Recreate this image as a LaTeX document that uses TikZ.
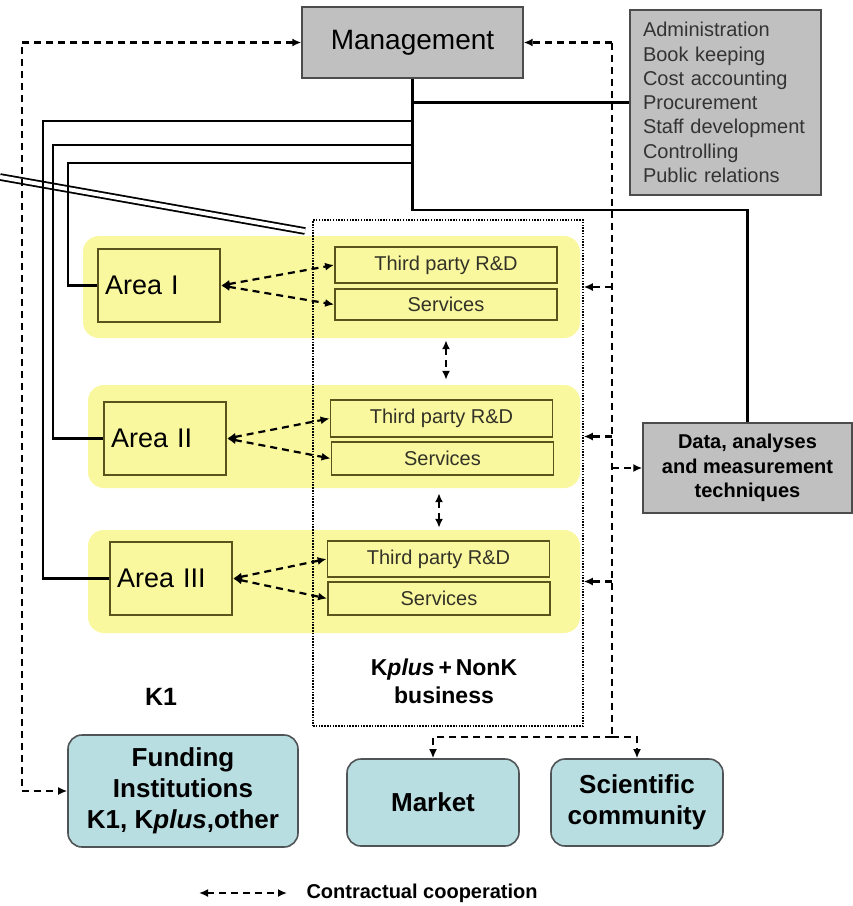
\documentclass[tikz,border=0pt]{standalone}
\usepackage{fontspec}
\setmainfont{Liberation Sans}
\usetikzlibrary{arrows.meta}
\definecolor{mggray}{RGB}{192,192,192}
\definecolor{areayellow}{RGB}{250,248,158}
\definecolor{areaedge}{RGB}{88,84,28}
\definecolor{outteal}{RGB}{184,222,226}
\definecolor{outedge}{RGB}{80,84,86}
\definecolor{txtdark}{RGB}{50,50,40}

\begin{document}
\begin{tikzpicture}[x=1pt,y=-1pt,
  conn/.style={line width=2.3pt},
  dline/.style={line width=2.2pt, dash pattern=on 7pt off 5pt, >={Latex[length=9pt,width=8pt]}},
  graybox/.style={draw=black!70, fill=mggray, line width=1.4pt, inner sep=0pt},
  rowbg/.style={fill=areayellow, rounded corners=16pt, inner sep=0pt},
  areabox/.style={draw=areaedge, fill=areayellow, line width=1.8pt, text width=108pt, inner xsep=7pt, align=left, minimum height=73pt, inner ysep=0pt, font=\fontsize{27}{30}\selectfont},
  taskbox/.style={draw=areaedge, fill=areayellow, line width=1.8pt, minimum width=222pt, inner sep=0pt, text=txtdark, font=\fontsize{20}{22}\selectfont},
  outbox/.style={draw=outedge, fill=outteal, line width=1.6pt, rounded corners=14pt, inner sep=0pt, align=center, font=\bfseries\fontsize{26}{31}\selectfont}]
\useasboundingbox (0,0) rectangle (853,906);

% Yellow rows and the Kplus frame
\node[rowbg, minimum width=497pt, minimum height=102pt] (row1) at (331.5,287) {};
\node[rowbg, minimum width=492pt, minimum height=103pt] (row2) at (334,436.5) {};
\node[rowbg, minimum width=492pt, minimum height=103pt] (row3) at (334,581.5) {};
\node[draw, line width=1.5pt, dash pattern=on 1.5pt off 1.3pt, minimum width=270pt, minimum height=506pt, inner sep=0pt] (kbox) at (448,473) {};
\node[font=\bfseries\fontsize{23}{28}\selectfont, align=center] (ktext) at (444,681) {K\textit{plus}\,+\,NonK\\business};

% Management level
\node[graybox, minimum width=221pt, minimum height=71pt, font=\fontsize{28}{30}\selectfont] (mgmt) at (412.5,42.5) {Management};
\node[graybox, text width=165pt, minimum height=185pt, inner xsep=13pt, align=left, text=black!80, font=\fontsize{20}{24.3}\selectfont] (admin) at (725.5,102.5) {Administration\\Book keeping\\Cost accounting\\Procurement\\Staff development\\Controlling\\Public relations};
\node[graybox, minimum width=209pt, minimum height=90pt, align=center, font=\bfseries\fontsize{20}{24.5}\selectfont] (data) at (747.5,468) {Data, analyses\\and measurement\\techniques};

% Areas
\node[areabox] (area1) at (159,285.5) {Area I};
\node[areabox] (area2) at (165,438.5) {Area II};
\node[areabox] (area3) at (171,578.5) {Area III};

% Third party R&D and services
\node[taskbox, minimum height=36pt] (tp1) at (446,265) {Third party R\&D};
\node[taskbox, minimum height=31pt] (sv1) at (446,304.5) {Services};
\node[taskbox, minimum height=37pt] (tp2) at (441.5,418.5) {Third party R\&D};
\node[taskbox, minimum height=33pt] (sv2) at (442.5,458.5) {Services};
\node[taskbox, minimum height=36pt] (tp3) at (438.5,559) {Third party R\&D};
\node[taskbox, minimum height=33pt] (sv3) at (439,598.5) {Services};

% Partners
\node[font=\bfseries\fontsize{25}{28}\selectfont] (kone) at (161,697) {K1};
\node[outbox, minimum width=230pt, minimum height=112pt] (fund) at (183,791) {Funding\\Institutions\\K1, K\textit{plus},other};
\node[outbox, minimum width=172pt, minimum height=87pt] (market) at (433,802.5) {Market};
\node[outbox, minimum width=172pt, minimum height=87pt] (sci) at (637,802.5) {Scientific\\community};

% Zoom lines
\coordinate (zfrom) at (0,177);
\coordinate (zto) at (305,231);
\draw[double=white, double distance=4pt, line width=1.8pt] (zfrom) -- (zto);

% Line organisation
\coordinate (busend) at (412.5,210);
\coordinate (j1) at (412.5,163);
\coordinate (j2) at (412.5,145);
\coordinate (j3) at (412.5,121);
\draw[conn] (mgmt.south) -- (busend) -| (data.north);
\draw[conn] (mgmt.south |- admin.west) -- (admin.west);
\draw[conn] (j3) -- (43,121) |- (area3.west);
\draw[conn] (j2) -- (53,145) |- (area2.west);
\draw[conn] (j1) -- (68,163) |- (area1.west);

% Contractual cooperation
\draw[dline,<->] (area1.east) -- (tp1.west);
\draw[dline,<->] (area1.east) -- (sv1.west);
\draw[dline,<->] (area2.east) -- (tp2.west);
\draw[dline,<->] (area2.east) -- (sv2.west);
\draw[dline,<->] (area3.east) -- (tp3.west);
\draw[dline,<->] (area3.east) -- (sv3.west);
\draw[dline,<->,shorten <=2pt,shorten >=5pt] (sv1.south |- row1.south) -- (sv1.south |- row2.north);
\draw[dline,<->,shorten <=5pt,shorten >=2pt] (sv3.north |- row2.south) -- (sv3.north |- row3.north);

\coordinate (rtop) at (612,42.5);
\coordinate (rbot) at (612,737);
\draw[dline,->] (rtop) -- (mgmt.east);
\draw[dline] (rtop) -- (rbot);
\draw[dline,->] (rbot) -| (market.north);
\draw[dline,->] (rbot) -| (sci.north);
\draw[dline,->] (rtop |- row1.east) -- (kbox.east |- row1.east);
\draw[dline,->] (rtop |- row2.east) -- (kbox.east |- row2.east);
\draw[dline,->] (rtop |- row3.east) -- (kbox.east |- row3.east);
\draw[dline,->] (rtop |- data.west) -- (data.west);

\coordinate (ltop) at (22,42.5);
\draw[dline,<->] (mgmt.west) -- (ltop) |- (fund.west);

% Legend
\coordinate (lgl) at (199,893);
\coordinate (lgr) at (287,893);
\draw[dline,<->] (lgl) -- (lgr);
\node[anchor=west, font=\bfseries\fontsize{20}{22}\selectfont] (lgtext) at (303,893) {Contractual cooperation};
\end{tikzpicture}
\end{document}
